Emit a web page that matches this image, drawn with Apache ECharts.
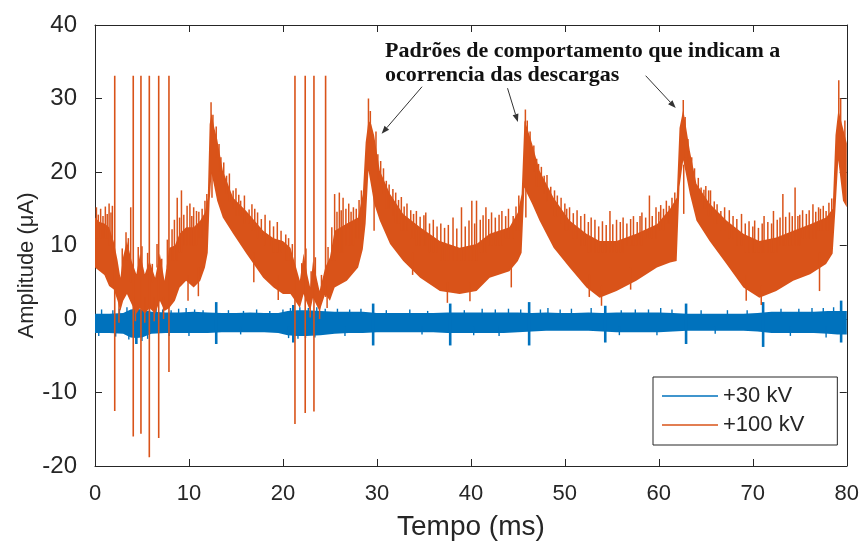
<!DOCTYPE html>
<html>
<head>
<meta charset="utf-8">
<script src="https://cdn.jsdelivr.net/npm/echarts@6/dist/echarts.min.js"></script>
<style>
  html, body { margin: 0; padding: 0; background: #ffffff; }
  #chart { width: 862px; height: 546px; }
</style>
</head>
<body>
<div id="chart"></div>
<script>
// ---- axis ticks ----
const xTicks = [0, 10, 20, 30, 40, 50, 60, 70, 80];
const yTicks = [-20, -10, 0, 10, 20, 30, 40];

// ---- +100 kV trace: envelope of the dense signal (time in ms, amplitude in µA) ----
const hvTime = [0, 0.5, 1.0, 1.5, 2.0, 2.4, 2.7, 3.0, 3.4, 3.9, 4.4, 4.8, 5.3, 5.8, 6.4, 6.9, 7.4, 7.9, 8.5, 9.0, 9.7, 10.5, 11.2, 11.7, 12.0, 12.2, 12.4, 12.7, 13.0, 13.6, 14.7, 16.1, 17.9, 19.0, 20.0, 20.8, 21.3, 21.8, 22.2, 22.6, 22.9, 23.2, 23.6, 23.9, 24.5, 25.0, 25.5, 26.8, 28.0, 28.5, 28.8, 29.1, 29.4, 29.7, 30.3, 31.4, 32.8, 34.6, 36.7, 38.8, 40.6, 42.0, 44.1, 45.0, 45.4, 45.7, 46.0, 46.5, 47.3, 48.8, 50.5, 52.3, 53.7, 55.5, 57.6, 59.8, 61.2, 61.9, 62.2, 62.6, 63.3, 64.0, 65.4, 67.2, 69.0, 70.7, 72.5, 74.3, 76.1, 77.8, 78.5, 78.8, 79.1, 79.6, 80];
const hvTop = [13.8, 13.2, 13.0, 12.5, 10.5, 8.0, 5.6, 8.5, 10.6, 7.9, 6.1, 8.9, 6.1, 7.9, 5.6, 8.9, 5.2, 9.7, 10.0, 11.6, 12.5, 12.5, 13.4, 14.5, 16.5, 26.5, 28.0, 26.0, 24.5, 20.2, 16.5, 14.7, 12.0, 11.0, 10.6, 9.7, 7.5, 5.2, 8.9, 6.0, 4.3, 7.9, 5.5, 3.8, 7.0, 8.4, 12.0, 13.0, 13.8, 17.0, 24.0, 27.0, 26.5, 25.0, 20.2, 17.0, 14.3, 12.5, 10.6, 9.7, 10.2, 11.6, 12.5, 14.5, 17.0, 27.0, 26.0, 23.9, 20.2, 16.5, 13.4, 11.6, 10.6, 10.6, 11.6, 12.9, 15.0, 16.5, 26.0, 28.5, 22.9, 18.4, 15.7, 13.4, 11.6, 10.6, 11.1, 12.0, 12.9, 13.8, 15.0, 25.0, 28.4, 26.0, 23.9];
const hvBottom = [7.0, 6.5, 6.0, 4.5, 4.0, 2.5, 1.1, 2.5, 3.4, 2.0, 0.7, 1.5, 0.7, 1.5, 0.7, 2.5, 1.1, 1.5, 2.5, 4.3, 5.2, 4.3, 5.2, 7.0, 9.0, 16.0, 19.8, 18.0, 16.1, 13.8, 11.6, 8.9, 5.6, 4.3, 3.4, 3.4, 2.5, 1.5, 3.4, 2.0, 1.1, 2.9, 1.8, 1.1, 3.4, 2.5, 4.3, 5.2, 7.0, 9.5, 13.0, 20.2, 18.0, 15.7, 13.4, 10.2, 7.9, 5.6, 3.8, 3.4, 3.8, 5.6, 6.5, 7.9, 9.0, 17.9, 17.0, 15.7, 13.4, 9.7, 7.0, 4.3, 2.9, 3.8, 5.2, 7.0, 7.7, 7.9, 18.0, 21.6, 17.0, 13.4, 10.6, 7.5, 4.3, 2.9, 3.8, 5.2, 6.1, 7.5, 8.9, 15.0, 21.6, 16.1, 15.2];

// +100 kV full-scale excursions: [time, lowest, highest]
const hvSpikes = [
  [2.10, -12.5, 33.1], [4.07, -16.0, 33.1], [4.89, -15.6, 33.1], [5.78, -18.8, 33.1], [6.78, -16.2, 33.1], [7.87, -7.2, 33.1],
  [21.28, -14.3, 33.1], [22.37, -12.8, 33.1], [23.30, -12.6, 33.1], [24.54, 3.0, 33.1]
];
// +100 kV short needles on the edges of the trace: [time, lowest, highest]
const hvNeedles = [
  [0.15, 11, 15.2], [0.35, 11, 14.2], [0.6, 11, 15.0], [0.85, 11, 14.0], [1.1, 11, 15.3], [1.3, 11, 14.3], [1.5, 10, 15.7], [1.7, 10, 14.5], [1.85, 9, 15.4],
  [2.9, 6, 9.6], [3.3, 8, 11.8], [3.55, 8, 11.0], [3.8, 5, 15.2], [4.6, 6, 9.8], [5.0, 7, 9.9], [5.6, 6, 9.0], [6.1, 5, 7.5], [6.6, 7, 10.2], [7.1, 6, 8.2], [7.7, 7, 10.8],
  [8.2, 8, 12.2], [8.45, 8, 13.5], [8.75, 8, 16.5], [9.0, 9, 13.8], [9.2, 9, 17.5], [9.45, 10, 14.2], [9.8, 10, 15.4], [10.1, 10, 15.7], [10.3, 10, 14.0], [10.5, 10, 15.2],
  [10.8, 10, 14.7], [11.05, 11, 14.6], [11.4, 11, 15.0], [11.7, 12, 16.1], [11.9, 12, 17.0],
  [12.35, 24, 29.5], [12.55, 24, 27.8],
  [12.9, 22, 26.2], [13.2, 20, 23.8], [13.4, 19, 22.0], [13.7, 18, 21.3], [14.0, 17, 19.5], [14.3, 16, 19.8], [14.7, 15, 17.5], [15.0, 14, 17.8], [15.3, 14, 16.9],
  [15.5, 14, 16.1], [15.9, 13, 16.8], [16.4, 13, 14.9], [16.7, 12, 15.6], [17.0, 12, 15.0], [17.3, 11, 14.5], [17.7, 11, 13.6], [18.1, 10, 14.2], [18.6, 10, 13.4],
  [19.0, 9, 12.6], [19.4, 9, 13.2], [19.8, 9, 12.0], [20.3, 8, 11.5],
  [20.6, 8, 11.0], [21.0, 7, 10.2], [22.0, 5, 7.6], [22.45, 6, 9.6], [23.0, 4, 6.5], [23.45, 5, 8.4], [24.1, 4, 6.0], [24.8, 6, 9.8],
  [25.2, 8, 12.5], [25.5, 8, 17.0], [25.75, 9, 14.6], [26.0, 9, 17.2], [26.2, 9, 14.8], [26.4, 9, 16.5], [26.7, 10, 15.0], [27.0, 10, 15.7], [27.25, 10, 14.6],
  [27.5, 10, 15.2], [27.8, 11, 15.0], [28.1, 11, 16.2], [28.35, 12, 17.5],
  [29.1, 24, 30.0], [29.3, 24, 28.3],
  [29.9, 21, 25.5], [30.1, 19, 22.4], [30.4, 18, 21.5], [30.7, 17, 20.5], [31.0, 15, 18.8], [31.3, 15, 18.3], [31.7, 14, 17.7], [32.0, 13, 17.2], [32.3, 13, 16.2],
  [32.6, 12, 16.6], [32.9, 12, 15.3], [33.2, 12, 15.7], [33.6, 11, 14.8], [33.9, 11, 14.3], [34.2, 10, 14.7], [34.6, 10, 13.9], [35.0, 10, 14.1], [35.2, 10, 14.5],
  [35.6, 9, 13.0], [36.0, 9, 13.5], [36.4, 9, 12.6], [36.8, 8, 13.0], [37.2, 8, 12.4], [37.6, 8, 12.8], [38.1, 8, 13.8], [38.5, 8, 12.3], [39.0, 8, 15.2],
  [39.4, 8, 12.6], [39.8, 8, 13.4], [40.1, 8, 16.1], [40.4, 8, 13.0], [40.6, 8, 16.1],
  [41.0, 9, 13.5], [41.3, 9, 14.1], [41.6, 9, 15.2], [41.9, 10, 13.6], [42.2, 10, 14.5], [42.6, 10, 13.8], [43.0, 10, 14.2], [43.3, 10, 14.7], [43.7, 11, 14.0],
  [44.0, 11, 15.0], [44.5, 11, 14.0], [44.8, 12, 15.3], [45.1, 12, 16.8],
  [45.8, 24, 28.5], [46.0, 22, 27.0],
  [46.3, 21, 25.5], [46.7, 20, 23.6], [47.0, 18, 21.8], [47.2, 18, 21.1], [47.5, 18, 20.7], [47.8, 17, 19.5], [48.1, 16, 19.6], [48.5, 15, 18.0], [48.9, 14, 17.5],
  [49.2, 14, 16.8], [49.6, 13, 16.5], [50.0, 12, 15.7], [50.2, 12, 15.0], [50.5, 12, 15.2], [50.9, 11, 14.4], [51.3, 11, 14.8], [51.7, 10, 14.0], [52.1, 10, 14.3],
  [52.5, 9, 13.2], [52.8, 9, 13.8], [53.2, 9, 13.5], [53.6, 9, 12.6], [54.0, 9, 13.3], [54.4, 9, 12.8], [54.8, 9, 14.7], [55.1, 9, 12.9], [55.5, 9, 13.5],
  [55.9, 9, 13.2], [56.2, 9, 13.8], [56.6, 10, 13.0], [57.0, 10, 13.6], [57.3, 10, 14.0], [57.7, 10, 13.2], [58.0, 10, 14.0], [58.2, 10, 14.5], [58.6, 11, 13.8],
  [59.0, 11, 16.8], [59.3, 11, 14.0], [59.7, 11, 15.2], [60.0, 12, 14.6], [60.2, 12, 15.5], [60.5, 12, 15.0], [60.8, 13, 16.1], [61.1, 13, 15.4], [61.4, 13, 16.5],
  [61.7, 14, 17.2],
  [62.6, 24, 29.8], [62.8, 22, 27.5],
  [63.1, 21, 24.5], [63.5, 19, 22.0], [63.8, 18, 20.5], [64.2, 17, 19.2], [64.5, 16, 17.9], [64.8, 15, 17.6], [65.0, 15, 18.1], [65.3, 14, 17.5], [65.5, 14, 17.5],
  [65.9, 13, 16.0], [66.2, 13, 15.6], [66.6, 12, 14.7], [67.0, 12, 15.2], [67.5, 11, 14.8], [67.9, 11, 14.0], [68.3, 10, 13.6], [68.8, 10, 14.3], [69.2, 9, 13.0],
  [69.6, 9, 13.3], [70.0, 9, 12.6], [70.2, 9, 13.4], [70.6, 9, 12.4], [71.0, 9, 13.0], [71.2, 9, 14.0],
  [71.6, 9, 13.2], [72.0, 9, 13.0], [72.2, 9, 14.7], [72.6, 9, 13.5], [72.9, 10, 13.8], [73.2, 10, 17.0], [73.5, 10, 13.9], [73.9, 10, 14.5], [74.2, 10, 14.0],
  [74.5, 10, 17.9], [74.8, 10, 14.0], [75.0, 10, 14.2], [75.3, 11, 14.8], [75.7, 11, 14.3], [76.0, 11, 14.8], [76.4, 11, 15.6], [76.7, 11, 14.6], [77.0, 12, 15.2],
  [77.2, 12, 15.0], [77.5, 12, 15.4], [77.8, 12, 14.7], [78.1, 12, 15.8], [78.4, 13, 16.4],
  [79.15, 24, 32.5], [79.35, 24, 30.0], [79.8, 21, 27.0],
  [2.55, -0.5, 3], [4.3, -0.3, 3], [5.3, -0.5, 3], [6.3, -0.3, 3], [7.3, 0, 3], [9.9, 2.5, 6], [11.0, 3.1, 7], [12.45, 16.5, 20], [16.9, 5.0, 9], [19.5, 2.6, 6],
  [22.9, 0.2, 3], [23.9, 0.0, 3], [24.7, 1.5, 4.5], [29.7, 12.0, 17], [33.8, 6.0, 9], [37.5, 2.2, 5], [39.9, 2.4, 5], [44.3, 4.3, 8], [45.85, 13.8, 18],
  [52.6, 3.0, 6], [53.9, 1.8, 4.5], [57.0, 4.0, 7], [62.65, 14.3, 21], [69.3, 2.5, 6], [70.9, 1.9, 4.5], [77.1, 3.8, 9]
];

// ---- +30 kV trace ----
const lvTime = [0, 1.5, 3.0, 3.8, 4.4, 5.0, 6.0, 7.5, 9.0, 10.5, 12.0, 13.5, 15.0, 16.5, 18.0, 19.5, 20.5, 21.5, 22.5, 24.0, 25.5, 27.0, 28.5, 30.0, 31.5, 33.0, 34.5, 36.0, 37.5, 39.0, 40.5, 42.0, 43.5, 45.0, 46.5, 48.0, 49.5, 51.0, 52.5, 54.0, 55.5, 57.0, 58.5, 60.0, 61.5, 63.0, 64.5, 66.0, 67.5, 69.0, 70.5, 72.0, 73.5, 75.0, 76.5, 78.0, 79.0, 80];
const lvTop = [0.7, 0.7, 0.8, 1.3, 1.4, 1.3, 1.0, 0.9, 0.9, 1.0, 0.9, 0.8, 0.8, 0.9, 0.8, 0.8, 1.1, 1.2, 1.2, 1.1, 1.0, 1.0, 1.0, 0.8, 0.8, 0.8, 0.8, 0.8, 0.9, 0.9, 0.9, 0.9, 0.9, 0.9, 0.8, 0.9, 0.8, 0.8, 0.9, 0.8, 0.9, 0.9, 0.9, 0.9, 0.8, 0.7, 0.7, 0.7, 0.7, 0.7, 0.8, 1.0, 1.0, 1.0, 1.0, 1.1, 1.1, 1.1];
const lvBottom = [-1.9, -1.9, -2.0, -2.5, -2.6, -2.5, -2.0, -1.9, -1.9, -1.9, -1.9, -1.8, -1.8, -1.8, -1.8, -1.9, -2.2, -2.3, -2.3, -2.2, -2.0, -1.9, -1.9, -1.8, -1.8, -1.8, -1.8, -1.8, -1.9, -1.9, -1.9, -1.9, -1.9, -1.8, -1.7, -1.6, -1.6, -1.6, -1.6, -1.7, -1.8, -1.8, -1.8, -1.8, -1.7, -1.6, -1.6, -1.6, -1.6, -1.6, -1.7, -1.9, -1.9, -1.9, -1.9, -2.0, -2.1, -2.1];
const lvSpikes = [
  [4.4, -3.4, 1.8], [12.9, -3.4, 2.3], [21.1, -3.2, 1.9], [29.6, -3.6, 2.1], [37.8, -3.6, 2.1],
  [46.2, -3.6, 2.3], [54.3, -3.2, 1.8], [62.9, -3.4, 2.1], [71.1, -3.8, 2.3], [79.4, -3.2, 2.5]
];
const lvNeedles = [
  [0.7, 0, 1.3], [1.9, 0, 1.2], [2.6, 0, 1.4], [3.4, 0, 1.6], [5.2, 0, 1.8], [5.8, 0, 1.6], [6.5, 0, 1.4], [7.2, 0, 1.3], [8.1, 0, 1.2], [8.9, 0, 1.4],
  [9.7, 0, 1.5], [10.6, 0, 1.3], [11.5, 0, 1.2], [14.2, 0, 1.2], [15.8, 0, 1.1], [17.2, 0, 1.3], [18.6, 0, 1.1], [20.0, 0, 1.3], [20.8, 0, 1.5], [21.8, 0, 1.6],
  [22.7, 0, 1.5], [23.6, 0, 1.6], [24.5, 0, 1.4], [25.8, 0, 1.4], [27.1, 0, 1.3], [28.3, 0, 1.4], [31.0, 0, 1.2], [33.5, 0, 1.3], [35.4, 0, 1.1], [39.3, 0, 1.2],
  [41.2, 0, 1.4], [42.6, 0, 1.3], [44.0, 0, 1.4], [45.3, 0, 1.3], [47.4, 0, 1.3], [48.2, 0, 1.5], [49.5, 0, 1.3], [50.7, 0, 1.4], [52.8, 0, 1.5], [56.0, 0, 1.2],
  [57.5, 0, 1.3], [58.9, 0, 1.3], [60.2, 0, 1.5], [61.4, 0, 1.3], [64.5, 0, 1.2], [67.3, 0, 1.2], [69.4, 0, 1.2], [73.0, 0, 1.4], [74.9, 0, 1.4], [76.3, 0, 1.5],
  [77.5, 0, 1.5], [78.6, 0, 1.6],
  [0.4, -1, -2.3], [2.2, -1, -2.4], [3.6, -1, -2.8], [5.0, -1, -3.0], [5.6, -1, -2.7], [7.9, -1, -2.3], [10.0, -1, -2.3], [15.5, -1, -2.1], [20.6, -1, -2.6],
  [21.6, -1, -2.7], [22.4, -1, -2.6], [23.4, -1, -2.5], [26.6, -1, -2.3], [34.8, -1, -2.1], [40.3, -1, -2.2], [43.0, -1, -2.3], [55.8, -1, -2.2], [59.8, -1, -2.2],
  [66.0, -1, -2.0], [74.0, -1, -2.3], [77.8, -1, -2.5]
];

// ---- callout ----
const calloutText = ['Padrões de comportamento que indicam a', 'ocorrencia das descargas'];
// arrow [tail, head] in data coordinates (ms, µA)
const calloutArrows = [
  [[34.8, 31.6], [30.5, 25.2]],
  [[43.9, 31.4], [45.0, 26.8]],
  [[58.6, 33.1], [61.8, 28.7]]
];

const seriesNames = ['+30 kV', '+100 kV'];
const ORANGE = '#D95319';
const BLUE = '#0072BD';
const AXIS = '#262626';
const SANS = '"Liberation Sans", Arial, Helvetica, sans-serif';

function rows(time, top, bottom) {
  return time.map((t, i) => [t, top[i], bottom[i]]);
}

// filled band between the upper and lower envelope of a dense trace
function bandItem(data) {
  return function (params, api) {
    if (params.dataIndex !== 0) return null;
    const pts = [];
    for (let i = 0; i < data.length; i++) pts.push(api.coord([data[i][0], data[i][1]]));
    for (let i = data.length - 1; i >= 0; i--) pts.push(api.coord([data[i][0], data[i][2]]));
    return { type: 'polygon', shape: { points: pts }, style: { fill: api.visual('color') } };
  };
}

// vertical stroke from low to high at a single time
function strokeItem(width) {
  return function (params, api) {
    const a = api.coord([api.value(0), api.value(1)]);
    const b = api.coord([api.value(0), api.value(2)]);
    return {
      type: 'line',
      shape: { x1: a[0], y1: a[1], x2: b[0], y2: b[1] },
      style: { stroke: api.visual('color'), lineWidth: width }
    };
  };
}

const lvBand = rows(lvTime, lvTop, lvBottom);
const hvBand = rows(hvTime, hvTop, hvBottom);

const chart = echarts.init(document.getElementById('chart'), null, { renderer: 'canvas' });

const baseX = {
  type: 'value', min: xTicks[0], max: xTicks[xTicks.length - 1], interval: xTicks[1] - xTicks[0],
  axisLine: { show: true, onZero: false, lineStyle: { color: AXIS, width: 1 } },
  axisTick: { show: true, inside: true, length: 7, lineStyle: { color: AXIS } },
  splitLine: { show: false }
};
const baseY = {
  type: 'value', min: yTicks[0], max: yTicks[yTicks.length - 1], interval: yTicks[1] - yTicks[0],
  axisLine: { show: true, onZero: false, lineStyle: { color: AXIS, width: 1 } },
  axisTick: { show: true, inside: true, length: 7, lineStyle: { color: AXIS } },
  splitLine: { show: false }
};

chart.setOption({
  animation: false,
  backgroundColor: '#ffffff',
  grid: { left: 95, right: 15, top: 25, bottom: 79, containLabel: false },
  xAxis: [
    Object.assign({}, baseX, {
      position: 'bottom',
      axisLabel: { show: true, color: AXIS, fontFamily: SANS, fontSize: 22, margin: 17 },
      name: 'Tempo (ms)', nameLocation: 'middle', nameGap: 47, nameMoveOverlap: false,
      nameTextStyle: { color: AXIS, fontFamily: SANS, fontSize: 28 }
    }),
    Object.assign({}, baseX, { position: 'top', axisLabel: { show: false } })
  ],
  yAxis: [
    Object.assign({}, baseY, {
      position: 'left',
      axisLabel: { show: true, color: AXIS, fontFamily: SANS, fontSize: 24, margin: 18 },
      name: 'Amplitude (μA)', nameLocation: 'middle', nameGap: 57, nameMoveOverlap: false,
      nameTextStyle: { color: AXIS, fontFamily: SANS, fontSize: 22, padding: [0, 40, 0, 0] }
    }),
    Object.assign({}, baseY, { position: 'right', axisLabel: { show: false } })
  ],
  legend: {
    data: seriesNames,
    orient: 'vertical',
    left: 653, top: 377,
    icon: 'rect', itemWidth: 56, itemHeight: 1.5, itemGap: 7, itemTextGap: 11,
    borderColor: AXIS, borderWidth: 1, backgroundColor: '#ffffff',
    padding: [8, 33, 9, 9],
    selectedMode: false,
    textStyle: { color: AXIS, fontFamily: SANS, fontSize: 22 }
  },
  series: [
    { name: seriesNames[0], type: 'custom', itemStyle: { color: BLUE }, data: lvBand,
      encode: { x: 0, y: [1, 2] }, renderItem: bandItem(lvBand), silent: true, z: 2 },
    { name: seriesNames[0], type: 'custom', itemStyle: { color: BLUE }, data: lvNeedles,
      encode: { x: 0, y: [1, 2] }, renderItem: strokeItem(1.4), silent: true, z: 2 },
    { name: seriesNames[0], type: 'custom', itemStyle: { color: BLUE }, data: lvSpikes,
      encode: { x: 0, y: [1, 2] }, renderItem: strokeItem(2.6), silent: true, z: 2 },
    { name: seriesNames[1], type: 'custom', itemStyle: { color: ORANGE }, data: hvBand,
      encode: { x: 0, y: [1, 2] }, renderItem: bandItem(hvBand), silent: true, z: 3 },
    { name: seriesNames[1], type: 'custom', itemStyle: { color: ORANGE }, data: hvNeedles,
      encode: { x: 0, y: [1, 2] }, renderItem: strokeItem(1.5), silent: true, z: 3 },
    { name: seriesNames[1], type: 'custom', itemStyle: { color: ORANGE }, data: hvSpikes,
      encode: { x: 0, y: [1, 2] }, renderItem: strokeItem(1.6), silent: true, z: 3 }
  ]
});

// callout text and arrows, placed in data coordinates
function arrowShapes(tail, head) {
  const p = chart.convertToPixel({ gridIndex: 0 }, tail);
  const q = chart.convertToPixel({ gridIndex: 0 }, head);
  const dx = q[0] - p[0], dy = q[1] - p[1];
  const len = Math.sqrt(dx * dx + dy * dy);
  const ux = dx / len, uy = dy / len;
  const hl = 8, hw = 3;
  const bx = q[0] - ux * hl, by = q[1] - uy * hl;
  return [
    { type: 'line', silent: true, z: 10,
      shape: { x1: p[0], y1: p[1], x2: bx, y2: by },
      style: { stroke: '#333333', lineWidth: 1 } },
    { type: 'polygon', silent: true, z: 10,
      shape: { points: [[q[0], q[1]], [bx - uy * hw, by + ux * hw], [bx + uy * hw, by - ux * hw]] },
      style: { fill: '#333333' } }
  ];
}

const graphics = [];
calloutArrows.forEach(a => arrowShapes(a[0], a[1]).forEach(g => graphics.push(g)));
calloutText.forEach((line, i) => {
  graphics.push({
    type: 'text', left: 385, top: 40 + i * 24, silent: true, z: 10,
    style: { text: line, fill: '#111111', font: 'bold 22px "Liberation Serif", "Times New Roman", serif' }
  });
});
chart.setOption({ graphic: graphics });
</script>
</body>
</html>
